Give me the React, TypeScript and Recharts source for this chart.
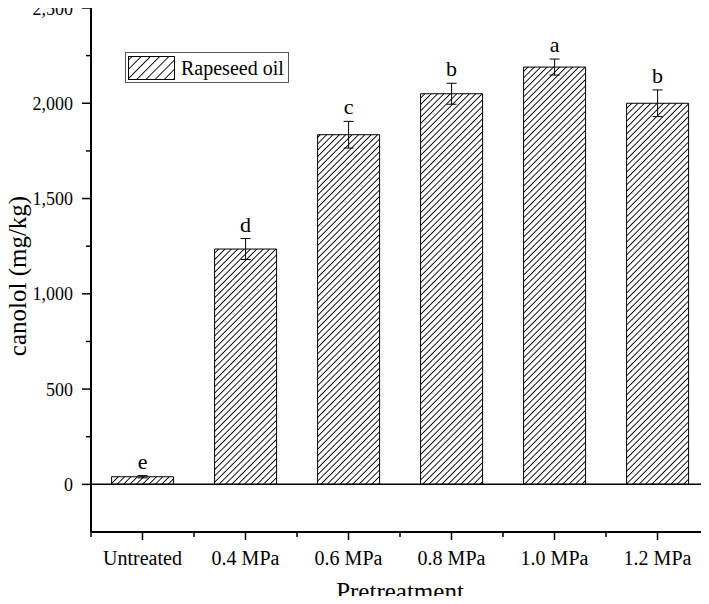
import { BarChart, Bar, XAxis, YAxis, ErrorBar, ReferenceLine, LabelList, Legend } from 'recharts';

// canolol content per pretreatment
const categories = ['Untreated', '0.4 MPa', '0.6 MPa', '0.8 MPa', '1.0 MPa', '1.2 MPa'];
const canolol = [40, 1235, 1835, 2050, 2190, 2000];
const errors = [6, 55, 70, 55, 42, 70];
const letters = ['e', 'd', 'c', 'b', 'a', 'b'];
const yTicks = [0, 250, 500, 750, 1000, 1250, 1500, 1750, 2000, 2250, 2500];

const data = categories.map((name, i) => ({
    name,
    value: canolol[i],
    err: errors[i],
    letter: letters[i],
}));

const W = 709;
const H = 604;
const AXIS_W = 91;
const FONT = "'Liberation Serif', 'Times New Roman', serif";
const txt = { fontFamily: FONT };
const band = (W - AXIS_W) / categories.length;

const YTick = (props: any) => {
    const { x, y, payload } = props;
    const major = payload.value % 500 === 0;
    return (
        <g>
            <line x1={x - (major ? 9 : 5)} y1={y} x2={x} y2={y} stroke="#000" strokeWidth={1.5} />
            {major && (
                <text x={x - 18} y={y} dy={6.5} textAnchor="end" fontSize={18} style={txt} fill="#000">
                    {payload.value.toLocaleString('en-US')}
                </text>
            )}
        </g>
    );
};

const XTick = (props: any) => {
    const { x, y, payload, index } = props;
    return (
        <g>
            <line x1={x} y1={y} x2={x} y2={y + 8} stroke="#000" strokeWidth={1.5} />
            <line x1={x - band / 2} y1={y} x2={x - band / 2} y2={y + 5} stroke="#000" strokeWidth={1.5} />
            {index === categories.length - 1 && (
                <line x1={x + band / 2 - 1} y1={y} x2={x + band / 2 - 1} y2={y + 5} stroke="#000" strokeWidth={1.5} />
            )}
            <text x={x} y={y + 33} textAnchor="middle" fontSize={20} style={txt} fill="#000">
                {payload.value}
            </text>
        </g>
    );
};

const LetterLabel = (props: any) => {
    const { x, y, width, height, index, value } = props;
    const ppu = height / canolol[index];
    const top = y - errors[index] * ppu;
    return (
        <text x={x + width / 2} y={top - 7} textAnchor="middle" fontSize={22} style={txt} fill="#000">
            {value}
        </text>
    );
};

const LegendBox = () => (
    <div style={{ display: 'flex', alignItems: 'center', border: '1px solid #555', background: '#fff', padding: '2px 4px 2px 2px', height: 25 }}>
        <svg width={47} height={24}>
            <rect x={0.5} y={0.5} width={46} height={23} fill="url(#hatchLegend)" stroke="#000" strokeWidth={1} />
        </svg>
        <span style={{ fontFamily: FONT, fontSize: 20, marginLeft: 6, color: '#000', lineHeight: '24px' }}>Rapeseed oil</span>
    </div>
);

export default function App() {
    return (
        <div style={{ margin: -8, width: W, height: H, position: 'relative', background: '#fff' }}>
            <svg width={0} height={0} style={{ position: 'absolute' }}>
                <defs>
                    <pattern id="hatch" patternUnits="userSpaceOnUse" width={4.5} height={4.5} patternTransform="rotate(45)">
                        <rect width={4.5} height={4.5} fill="#fff" />
                        <line x1={2.25} y1={0} x2={2.25} y2={4.5} stroke="#000" strokeWidth={0.9} />
                    </pattern>
                    <pattern id="hatchLegend" patternUnits="userSpaceOnUse" width={6.5} height={6.5} patternTransform="rotate(45)">
                        <rect width={6.5} height={6.5} fill="#fff" />
                        <line x1={3.25} y1={0} x2={3.25} y2={6.5} stroke="#000" strokeWidth={0.9} />
                    </pattern>
                </defs>
            </svg>
            <BarChart width={W} height={H} data={data} margin={{ top: 8, right: 0, bottom: 0, left: 0 }} barCategoryGap="20%">
                <XAxis
                    dataKey="name"
                    height={72}
                    tickLine={false}
                    tickSize={0}
                    tickMargin={0}
                    axisLine={{ stroke: '#000', strokeWidth: 2 }}
                    tick={<XTick />}
                    interval={0}
                    label={{
                        content: (p: any) => (
                            <text x={p.viewBox.x + p.viewBox.width / 2} y={p.viewBox.y + 68} textAnchor="middle" fontSize={25} style={txt} fill="#000">
                                Pretreatment
                            </text>
                        ),
                    }}
                />
                <YAxis
                    width={AXIS_W}
                    domain={[-250, 2500]}
                    ticks={yTicks}
                    tickLine={false}
                    tickSize={0}
                    tickMargin={0}
                    allowDataOverflow
                    axisLine={{ stroke: '#000', strokeWidth: 2 }}
                    tick={<YTick />}
                    interval={0}
                    label={{
                        content: (p: any) => {
                            const cx = 18;
                            const cy = p.viewBox.y + p.viewBox.height / 2 + 6;
                            return (
                                <text x={cx} y={cy} transform={`rotate(-90 ${cx} ${cy})`} dy={8} textAnchor="middle" fontSize={25} style={txt} fill="#000">
                                    canolol (mg/kg)
                                </text>
                            );
                        },
                    }}
                />
                <ReferenceLine y={0} stroke="#000" strokeWidth={1.5} ifOverflow="extendDomain" />
                <Legend
                    layout="vertical"
                    align="center"
                    verticalAlign="middle"
                    wrapperStyle={{ left: 125, top: 52, width: 'auto' }}
                    content={() => <LegendBox />}
                />
                <Bar dataKey="value" name="Rapeseed oil" fill="url(#hatch)" stroke="#000" strokeWidth={1} isAnimationActive={false}>
                    <ErrorBar dataKey="err" width={5} stroke="#000" strokeWidth={1} isAnimationActive={false} />
                    <LabelList dataKey="letter" content={<LetterLabel />} />
                </Bar>
            </BarChart>
        </div>
    );
}
